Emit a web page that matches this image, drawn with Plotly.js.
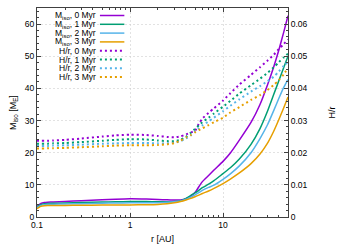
<!DOCTYPE html>
<html><head><meta charset="utf-8">
<script src="https://cdn.plot.ly/plotly-3.0.1.min.js"></script>
<style>html,body{margin:0;padding:0;background:#fff}#chart{width:350px;height:245px}</style>
</head><body><div id="chart"></div>
<script>
// radius [AU]
const r = [0.1, 0.105, 0.11, 0.12, 0.13, 0.15, 0.2, 0.3, 0.5, 0.7, 1, 1.5, 2, 2.5, 3, 3.5, 4, 4.5, 5, 5.5, 6, 7, 8, 10, 12, 15, 20, 25, 30, 35, 40, 45, 50];

// isolation mass [M_E]
const miso0 = [3.3, 3.8, 4.2, 4.5, 4.6, 4.7, 4.85, 5.05, 5.35, 5.55, 5.7, 5.6, 5.45, 5.35, 5.3, 5.3, 5.7, 6.5, 7.6, 9.4, 11.0, 12.9, 14.6, 17.3, 19.9, 23.9, 29.4, 35.0, 41.0, 46.6, 52.1, 57.5, 62.6];
const miso1 = [3.1, 3.5, 3.85, 4.1, 4.2, 4.25, 4.35, 4.5, 4.65, 4.75, 4.8, 4.8, 4.75, 4.75, 4.85, 5.1, 5.8, 6.7, 7.5, 8.3, 9.1, 10.2, 11.3, 13.5, 15.3, 18.0, 22.6, 27.5, 32.8, 38.0, 42.5, 46.5, 50.0];
const miso2 = [2.9, 3.3, 3.6, 3.85, 3.95, 4.0, 4.05, 4.15, 4.3, 4.35, 4.4, 4.4, 4.45, 4.55, 4.75, 5.0, 5.5, 6.2, 6.9, 7.6, 8.3, 9.2, 9.9, 11.7, 13.4, 15.9, 20.0, 24.4, 28.6, 33.0, 37.0, 40.3, 42.8];
const miso3 = [2.6, 3.0, 3.3, 3.5, 3.55, 3.6, 3.6, 3.65, 3.7, 3.7, 3.75, 3.8, 3.9, 4.1, 4.4, 4.8, 5.3, 5.8, 6.3, 6.8, 7.3, 8.1, 8.9, 10.4, 11.8, 13.7, 16.6, 19.6, 22.9, 26.6, 30.4, 34.0, 37.3];

// aspect ratio H/r
const hr0 = [0.0237, 0.0237, 0.0237, 0.0237, 0.0237, 0.0238, 0.0240, 0.0244, 0.0250, 0.0254, 0.0256, 0.0255, 0.0252, 0.0249, 0.0248, 0.0251, 0.0257, 0.0263, 0.0268, 0.0290, 0.0306, 0.0324, 0.0338, 0.0362, 0.0385, 0.0412, 0.0442, 0.0466, 0.0486, 0.0504, 0.0523, 0.0538, 0.0552];
const hr1 = [0.0228, 0.0228, 0.0228, 0.0228, 0.0228, 0.0229, 0.0230, 0.0233, 0.0237, 0.0240, 0.0242, 0.0241, 0.0238, 0.0236, 0.0236, 0.0240, 0.0249, 0.0262, 0.0274, 0.0285, 0.0295, 0.0309, 0.0322, 0.0343, 0.0361, 0.0384, 0.0410, 0.0430, 0.0448, 0.0465, 0.0482, 0.0496, 0.0508];
const hr2 = [0.0221, 0.0221, 0.0221, 0.0221, 0.0221, 0.0222, 0.0223, 0.0225, 0.0228, 0.0229, 0.0230, 0.0230, 0.0229, 0.0229, 0.0231, 0.0236, 0.0244, 0.0254, 0.0265, 0.0276, 0.0285, 0.0297, 0.0309, 0.0329, 0.0346, 0.0366, 0.0390, 0.0407, 0.0422, 0.0436, 0.0453, 0.0470, 0.0483];
const hr3 = [0.0213, 0.0213, 0.0213, 0.0213, 0.0214, 0.0214, 0.0215, 0.0217, 0.0220, 0.0222, 0.0223, 0.0223, 0.0224, 0.0226, 0.0230, 0.0238, 0.0247, 0.0255, 0.0263, 0.0270, 0.0276, 0.0286, 0.0295, 0.0309, 0.0325, 0.0342, 0.0364, 0.0379, 0.0395, 0.0410, 0.0426, 0.0444, 0.0463];

const times = ['0 Myr', '1 Myr', '2 Myr', '3 Myr'];
const colors = ['#9400d3', '#009e73', '#56b4e9', '#e69f00'];
const xTickVals = [0.1, 1, 10];
const xTickText = ['0.1', '1', '10'];
const xMinorVals = [0.2,0.3,0.4,0.5,0.6,0.7,0.8,0.9,2,3,4,5,6,7,8,9,20,30,40,50];

const misoSeries = [miso0, miso1, miso2, miso3];
const hrSeries = [hr0, hr1, hr2, hr3];

const FONT = 'Liberation Sans, Arial, sans-serif';
const AX = '#404040';
const DASH = '2px,3px';

const traces = [];
misoSeries.forEach((m, i) => traces.push({
  x: r, y: m, type: 'scatter', mode: 'lines', yaxis: 'y', showlegend: false,
  line: {color: colors[i], width: 1.5, shape: 'spline', smoothing: 0.5}
}));
hrSeries.forEach((h, i) => traces.push({
  x: r, y: h, type: 'scatter', mode: 'lines', yaxis: 'y2', showlegend: false,
  line: {color: colors[i], width: 2, dash: DASH, shape: 'spline', smoothing: 0.5}
}));

// manual gnuplot-style key: right-aligned text, sample on the right
const labels = times.map(t => 'M<sub>iso</sub>, ' + t).concat(times.map(t => 'H/r, ' + t));
const annotations = [];
const shapes = [];
labels.forEach((lab, k) => {
  const py = 15.5 + k * 8.8;
  const yp = (217 - py) / 209;
  annotations.push({xref: 'paper', yref: 'paper', x: 0.2388, y: yp, xanchor: 'right', yanchor: 'middle',
    text: lab, showarrow: false, borderpad: 0, font: {family: FONT, size: 8.5, color: '#000'}});
  shapes.push({type: 'line', xref: 'paper', yref: 'paper', x0: 0.2507, x1: 0.348, y0: yp, y1: yp,
    line: {color: colors[k % 4], width: k < 4 ? 1.5 : 2, dash: k < 4 ? 'solid' : DASH}});
});

const layout = {
  width: 350, height: 245,
  margin: {l: 37, r: 62, t: 8, b: 28},
  paper_bgcolor: '#fff', plot_bgcolor: '#fff',
  font: {family: FONT, size: 8.5, color: '#000'},
  showlegend: false,
  xaxis: {
    type: 'log', range: [-1, Math.log10(50)],
    tickmode: 'array', tickvals: xTickVals, ticktext: xTickText,
    ticks: 'inside', ticklen: 4, tickcolor: AX, tickwidth: 1,
    showline: true, linecolor: AX, linewidth: 1, mirror: 'ticks',
    showgrid: true, gridcolor: '#cfcfcf', gridwidth: 0.6, griddash: '2px,2px',
    zeroline: false,
    minor: {tickmode: 'array', tickvals: xMinorVals, ticks: 'inside', ticklen: 2, tickcolor: AX, showgrid: false},
    title: {text: 'r [AU]', font: {family: FONT, size: 9}, standoff: 6}
  },
  yaxis: {
    range: [0, 65], dtick: 10, tick0: 0,
    ticks: 'inside', ticklen: 4, tickcolor: AX,
    showline: true, linecolor: AX, linewidth: 1, mirror: false,
    showgrid: true, gridcolor: '#cfcfcf', gridwidth: 0.6, griddash: '2px,2px',
    zeroline: false,
    minor: {dtick: 2, ticks: 'inside', ticklen: 2, tickcolor: AX, showgrid: false},
    title: {text: 'M<sub>iso</sub> [M<sub>E</sub>]', font: {family: FONT, size: 9}, standoff: 6}
  },
  yaxis2: {
    overlaying: 'y', side: 'right', range: [0, 0.065], dtick: 0.01, tick0: 0,
    ticks: 'inside', ticklen: 4, tickcolor: AX,
    showline: true, linecolor: AX, linewidth: 1,
    showgrid: false, zeroline: false,
    minor: {dtick: 0.002, ticks: 'inside', ticklen: 2, tickcolor: AX},
    title: {text: 'H/r', font: {family: FONT, size: 9}, standoff: 22}
  },
  annotations: annotations,
  shapes: shapes
};

Plotly.newPlot('chart', traces, layout, {displayModeBar: false, staticPlot: true});
</script>
</body></html>
